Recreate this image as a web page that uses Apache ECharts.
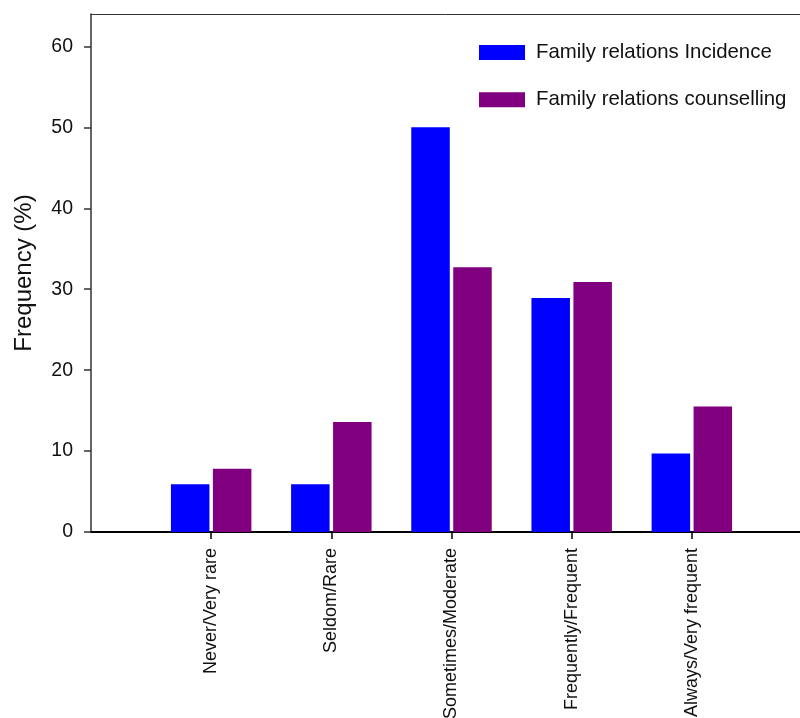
<!DOCTYPE html>
<html>
<head>
<meta charset="utf-8">
<script src="https://cdn.jsdelivr.net/npm/echarts@6/dist/echarts.min.js"></script>
<style>html,body{margin:0;padding:0;background:#fff}#c{width:800px;height:718px}</style>
</head>
<body>
<div id="c"></div>
<script>
var categories = ['Never/Very rare', 'Seldom/Rare', 'Sometimes/Moderate', 'Frequently/Frequent', 'Always/Very frequent'];
var positions = [1, 2, 3, 4, 5];
var incidence = [5.9, 5.9, 50, 28.9, 9.7];
var counselling = [7.8, 13.6, 32.7, 30.9, 15.5];
var yTicks = [0, 10, 20, 30, 40, 50, 60];
var seriesNames = ['Family relations Incidence', 'Family relations counselling'];

var font = 'Liberation Sans, Arial, sans-serif';
function pairs(vals) { return positions.map(function (p, i) { return [p, vals[i]]; }); }

var chart = echarts.init(document.getElementById('c'), null, { renderer: 'canvas' });
chart.setOption({
  animation: false,
  backgroundColor: '#fff',
  grid: { left: 91, right: 0, top: 14, bottom: 186, outerBoundsMode: 'none', containLabel: false },
  legend: {
    orient: 'vertical', left: 479, top: 42.4, padding: 0,
    itemWidth: 46, itemHeight: 15, itemGap: 27.4,
    icon: 'rect',
    data: seriesNames,
    textStyle: { fontFamily: font, fontSize: 20.4, color: '#111', padding: [0, 0, 0, 6] }
  },
  xAxis: [{
    type: 'value', min: 0, max: 5.9, interval: 1,
    axisLine: { show: true, onZero: false, lineStyle: { color: '#000', width: 2 } },
    axisTick: { show: true, length: 7, customValues: positions, lineStyle: { color: '#000', width: 1.5 } },
    axisLabel: {
      customValues: positions, rotate: 90, margin: 16,
      fontFamily: font, fontSize: 18, color: '#111',
      formatter: function (v) { return categories[Math.round(v) - 1] || ''; }
    },
    splitLine: { show: false }
  }, {
    type: 'value', min: 0, max: 5.9, position: 'top',
    axisLine: { show: true, onZero: false, lineStyle: { color: '#333', width: 1 } },
    axisTick: { show: false }, axisLabel: { show: false }, splitLine: { show: false }
  }],
  yAxis: {
    type: 'value', min: 0, max: 64, interval: 10,
    name: 'Frequency (%)', nameLocation: 'middle', nameGap: 55,
    nameTextStyle: { fontFamily: font, fontSize: 24, color: '#111' },
    axisLine: { show: true, lineStyle: { color: '#333', width: 1.5 } },
    axisTick: { show: true, length: 7, customValues: yTicks, lineStyle: { color: '#333', width: 1.5 } },
    axisLabel: { customValues: yTicks, margin: 18, fontFamily: font, fontSize: 19.5, color: '#111' },
    splitLine: { show: false }
  },
  series: [{
    name: seriesNames[0], type: 'bar', xAxisIndex: 0,
    data: pairs(incidence), barWidth: 38.5, barGap: '9%',
    itemStyle: { color: '#0000FF' }
  }, {
    name: seriesNames[1], type: 'bar', xAxisIndex: 0,
    data: pairs(counselling), barWidth: 38.5, barGap: '9%',
    itemStyle: { color: '#800080' }
  }]
});
</script>
</body>
</html>
